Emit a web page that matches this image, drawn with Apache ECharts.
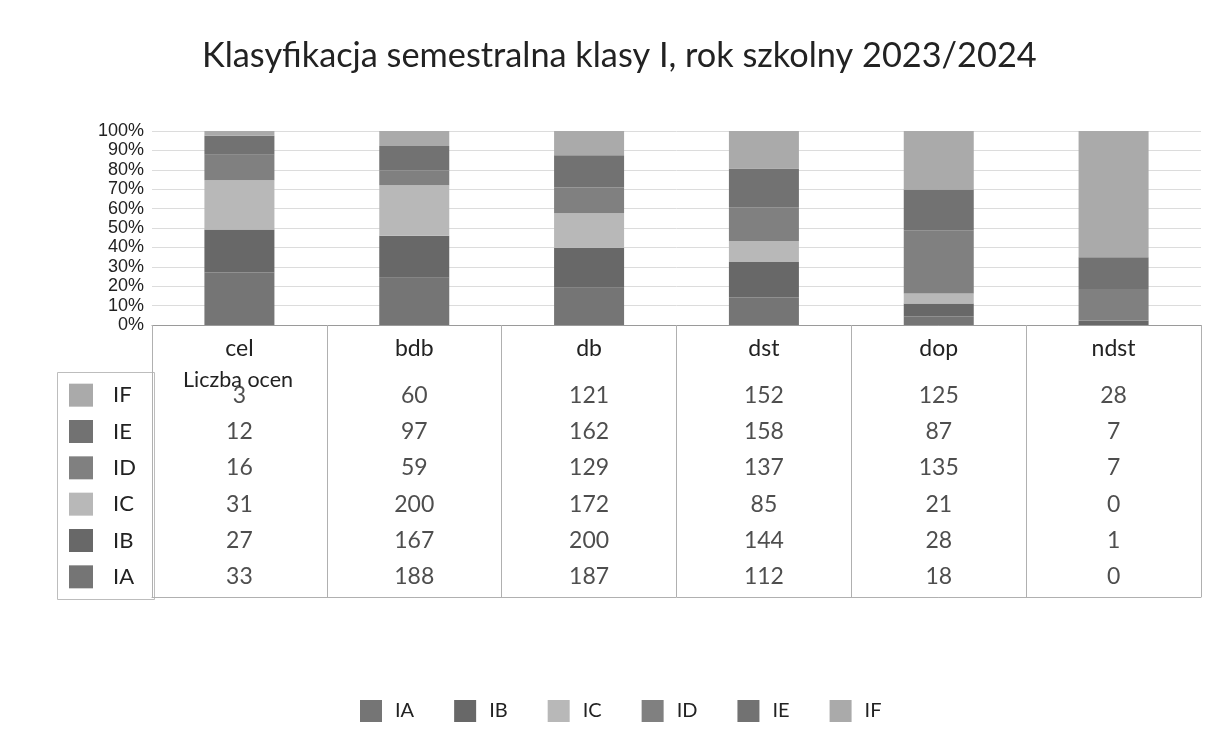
<!DOCTYPE html>
<html>
<head>
<meta charset="utf-8">
<script src="https://cdn.jsdelivr.net/npm/echarts@6/dist/echarts.min.js"></script>
<style>
html,body{margin:0;padding:0;background:#fff;}
#chart{width:1217px;height:751px;}
</style>
</head>
<body>
<div id="chart"></div>
<script>
const titleText = 'Klasyfikacja semestralna klasy I, rok szkolny 2023/2024';
const categories = ['cel', 'bdb', 'db', 'dst', 'dop', 'ndst'];
const seriesNames = ['IA', 'IB', 'IC', 'ID', 'IE', 'IF'];
const IA = [33, 188, 187, 112, 18, 0];
const IB = [27, 167, 200, 144, 28, 1];
const IC = [31, 200, 172, 85, 21, 0];
const ID = [16, 59, 129, 137, 135, 7];
const IE = [12, 97, 162, 158, 87, 7];
const IF = [3, 60, 121, 152, 125, 28];
const tableLabel = 'Liczba ocen';

const values = { IA, IB, IC, ID, IE, IF };
const colors = { IA: '#757575', IB: '#686868', IC: '#b8b8b8', ID: '#808080', IE: '#727272', IF: '#aaaaaa' };

const totals = categories.map((c, i) => seriesNames.reduce((s, n) => s + values[n][i], 0));

const textFont = 'Lato';
const textColor = '#222';

const barSeries = seriesNames.map(n => ({
  name: n,
  type: 'bar',
  stack: 'total',
  barWidth: 70,
  xAxisIndex: 0,
  yAxisIndex: 0,
  itemStyle: { color: colors[n] },
  emphasis: { disabled: true },
  data: values[n].map((v, i) => totals[i] ? v / totals[i] * 100 : 0)
}));

const tableData = [];
seriesNames.forEach(n => {
  values[n].forEach((v, i) => tableData.push([i, n, v]));
});

const rich = { t: { fontFamily: textFont, fontSize: 22, color: textColor, padding: [0, 0, 0, 20] } };
seriesNames.forEach(n => { rich['sw' + n] = { width: 24, height: 23, backgroundColor: colors[n] }; });

const option = {
  animation: false,
  backgroundColor: '#fff',
  title: {
    text: titleText,
    left: 197,
    top: 34,
    textStyle: { fontFamily: textFont, fontSize: 34.3, fontWeight: 'normal', color: textColor }
  },
  legend: {
    data: seriesNames,
    left: 355,
    top: 695,
    icon: 'rect',
    itemWidth: 22,
    itemHeight: 22,
    itemGap: 40,
    textStyle: { fontFamily: textFont, fontSize: 20, color: textColor, padding: [0, 0, 0, 8] },
    selectedMode: false
  },
  grid: [
    { left: 152, right: 16, top: 131, height: 194 },
    { left: 152, right: 16, top: 377, height: 218 }
  ],
  xAxis: [
    {
      type: 'category', gridIndex: 0, data: categories,
      axisLine: { show: true, lineStyle: { color: '#9a9a9a' } },
      axisTick: { show: true, length: 272, lineStyle: { color: '#b0b0b0' } },
      axisLabel: { margin: 12, fontFamily: textFont, fontSize: 23, color: textColor }
    },
    {
      type: 'category', gridIndex: 1, data: categories, offset: 2,
      axisLine: { show: true, lineStyle: { color: '#b0b0b0' } },
      axisTick: { show: false },
      axisLabel: { show: false }
    }
  ],
  yAxis: [
    {
      type: 'value', gridIndex: 0, min: 0, max: 100, interval: 10,
      axisLine: { show: false }, axisTick: { show: false },
      splitLine: { lineStyle: { color: '#dcdcdc' } },
      axisLabel: { formatter: '{value}%', margin: 8, fontFamily: 'Liberation Sans', fontSize: 18, color: textColor }
    },
    {
      type: 'category', gridIndex: 1, data: seriesNames,
      axisLine: { show: false }, axisTick: { show: false }, splitLine: { show: false },
      axisLabel: {
        align: 'left', margin: 83,
        formatter: v => '{sw' + v + '|}{t|' + v + '}',
        rich: rich
      }
    }
  ],
  graphic: [
    { type: 'rect', left: 55, top: 370, shape: { width: 97, height: 227 }, style: { fill: 'none', stroke: '#bdbdbd', lineWidth: 1 }, silent: true },
    { type: 'text', left: 183, top: 369, style: { text: tableLabel, fontFamily: textFont, fontSize: 21.5, fill: textColor }, silent: true }
  ],
  series: barSeries.concat([{
    name: 'table',
    type: 'scatter',
    xAxisIndex: 1,
    yAxisIndex: 1,
    symbolSize: 1,
    itemStyle: { color: 'rgba(0,0,0,0)' },
    label: {
      show: true, position: 'inside',
      formatter: p => String(p.value[2]),
      fontFamily: textFont, fontSize: 23, color: textColor
    },
    emphasis: { disabled: true },
    data: tableData
  }])
};

const chart = echarts.init(document.getElementById('chart'), null, { renderer: 'canvas' });
chart.setOption(option);
</script>
</body>
</html>
